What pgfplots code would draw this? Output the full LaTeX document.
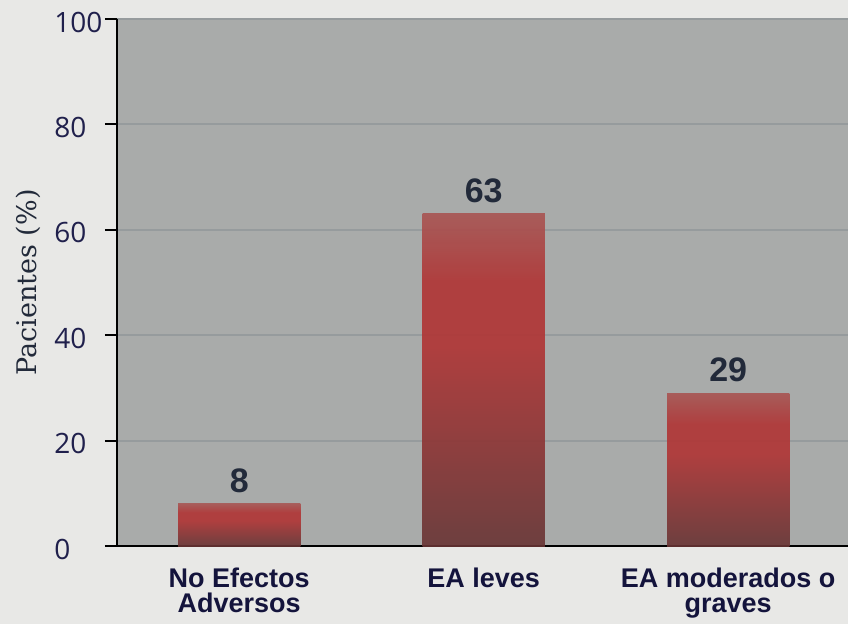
\documentclass[border=0pt]{standalone}
\usepackage{pgfplots}
\pgfplotsset{compat=1.18}
\usepackage{fontspec}
\setmainfont{Liberation Sans}
\newfontfamily\tickfont{Open Sans}
\newfontfamily\labfont{DejaVu Serif}

\definecolor{pagebg}{RGB}{232,232,230}
\definecolor{plotbg}{RGB}{169,171,170}
\definecolor{gridc}{RGB}{150,155,157}
\definecolor{barTop}{RGB}{168,84,82}
\definecolor{barMid}{RGB}{176,52,52}
\definecolor{barBot}{RGB}{103,52,52}
\definecolor{ticknavy}{RGB}{32,32,76}
\definecolor{catnavy}{RGB}{20,20,60}
\definecolor{valdark}{RGB}{34,42,58}

% bar gradient (the bar spans 25bp..75bp of the shading): dark base,
% bright red in the upper part, muted at the top edge
\pgfdeclareverticalshading{barshade}{100bp}{%
  color(0bp)=(barBot); color(25bp)=(barBot); color(55bp)=(barMid);
  color(65bp)=(barMid); color(75bp)=(barTop); color(100bp)=(barTop)}

\pgfplotsset{
  redbar/.style={draw=none, bar shift=0pt, shading=barshade, fill opacity=0.9},
}

\begin{document}
\begin{tikzpicture}
\useasboundingbox (-58.5bp,-39bp) rectangle (365.5bp,273bp);
\fill[pagebg] (-58.5bp,-39bp) rectangle (365.5bp,273bp);
\begin{axis}[
  at={(0,0)}, anchor=south west,
  scale only axis,
  width=365.5bp, height=263.5bp,
  xmin=0.5, xmax=3.49,
  ymin=0, ymax=100,
  axis background/.style={fill=plotbg},
  axis lines*=left,
  axis line style={black, line width=1bp},
  ytick={0,20,40,60,80,100},
  ymajorgrids,
  major grid style={gridc, line width=1bp},
  tick align=outside,
  major tick length=6bp,
  tick style={black, line width=1bp},
  /pgf/number format/assume math mode=true,
  yticklabel style={font=\tickfont\fontsize{14bp}{16bp}\selectfont, text=ticknavy,
    anchor=west, inner sep=0pt, xshift=-25.5bp, yshift=-1.5bp},
  xtick={1,2,3},
  xticklabels={{No Efectos\\Adversos},{EA leves},{EA moderados o\\graves}},
  xtick style={draw=none},
  xticklabel style={font=\bfseries\fontsize{13.5bp}{12.2bp}\selectfont, text=catnavy,
    align=center, anchor=north, inner sep=0pt, yshift=-5bp},
  extra x ticks={0.5,1.5,2.5},
  extra x tick labels={},
  extra x tick style={grid=none, major tick length=5bp,
    tick style={draw=black, line width=1bp}},
  ylabel={Pacientes (\%)},
  ylabel style={font=\labfont\fontsize{13.5bp}{15bp}\selectfont, text=valdark,
    at={(axis description cs:-0.1218,0.5)}, anchor=center},
  ybar, bar width=0.5,
  nodes near coords,
  every node near coord/.append style={font=\bfseries\fontsize{17bp}{18bp}\selectfont,
    text=valdark, anchor=south, inner sep=0pt, yshift=5.5bp, fill opacity=1, text opacity=1},
  clip=false,
]
% one bar per plot so each bar carries its own vertical gradient
\addplot[redbar] coordinates {(1,8)};
\addplot[redbar] coordinates {(2,63)};
\addplot[redbar] coordinates {(3,29)};
\end{axis}
\end{tikzpicture}
\end{document}
